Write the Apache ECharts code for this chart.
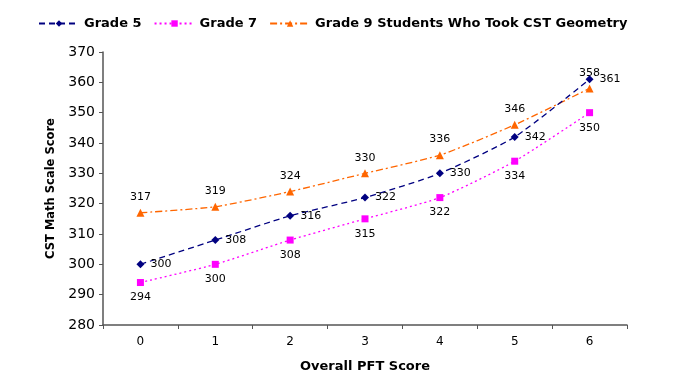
<!DOCTYPE html>
<html><head><meta charset="utf-8">
<script src="https://cdn.jsdelivr.net/npm/echarts@6/dist/echarts.min.js"></script>
<style>html,body{margin:0;padding:0;background:#fff}#c{width:680px;height:378px}</style>
</head><body><div id="c"></div>
<script>
const categories = ['0','1','2','3','4','5','6'];
const grade5 = [300, 308, 316, 322, 330, 342, 361];
const grade7 = [294, 300, 308, 315, 322, 334, 350];
const grade9 = [317, 319, 324, 330, 336, 346, 358];
const seriesNames = ['Grade 5', 'Grade 7', 'Grade 9 Students Who Took CST Geometry'];

const font = 'DejaVu Sans, Verdana, sans-serif';
const chart = echarts.init(document.getElementById('c'));
const lbl = (pos) => ({show: true, position: pos, color: '#000', fontFamily: font, fontSize: 11, distance: 6});
chart.setOption({
  animation: false,
  textStyle: {fontFamily: font},
  legend: {
    top: 12, left: 33, itemWidth: 40, itemHeight: 8, itemGap: 12,
    textStyle: {fontFamily: font, fontSize: 13, fontWeight: 'bold', color: '#000'},
    data: seriesNames
  },
  grid: {left: 103, right: 53, top: 52, bottom: 53},
  xAxis: {
    type: 'category', data: categories, boundaryGap: true,
    name: 'Overall PFT Score', nameLocation: 'middle', nameGap: 35,
    nameTextStyle: {fontFamily: font, fontSize: 13, fontWeight: 'bold', color: '#000'},
    axisLine: {lineStyle: {color: '#555', width: 1.5}},
    axisTick: {show: true, inside: false, length: 4, lineStyle: {color: '#555'}},
    axisLabel: {color: '#000', fontSize: 12, margin: 11, fontFamily: font}
  },
  yAxis: {
    type: 'value', min: 280, max: 370, interval: 10,
    name: 'CST Math Scale Score', nameLocation: 'middle', nameGap: 42, nameRotate: 90,
    nameTextStyle: {fontFamily: font, fontSize: 11.5, fontWeight: 'bold', color: '#000'},
    axisLine: {show: true, lineStyle: {color: '#555', width: 1.5}},
    axisTick: {show: true, length: 4, lineStyle: {color: '#555'}},
    axisLabel: {color: '#000', fontSize: 14, margin: 8, fontFamily: font},
    splitLine: {show: false}
  },
  series: [
    {name: seriesNames[0], type: 'line', data: grade5, smooth: 0.2,
     symbol: 'diamond', symbolSize: 8, color: '#000080',
     lineStyle: {color: '#000080', width: 1.3, type: [6, 4]},
     label: lbl('right'), z: 3},
    {name: seriesNames[1], type: 'line', data: grade7, smooth: 0.2,
     symbol: 'rect', symbolSize: 7, color: '#FF00FF',
     lineStyle: {color: '#FF00FF', width: 1.3, type: [2, 3]},
     label: lbl('bottom'), z: 2},
    {name: seriesNames[2], type: 'line', data: grade9, smooth: 0.2,
     symbol: 'triangle', symbolSize: 8, color: '#FF6600',
     lineStyle: {color: '#FF6600', width: 1.3, type: [7, 3, 2, 3]},
     label: lbl('top'), z: 1}
  ]
});
</script></body></html>
